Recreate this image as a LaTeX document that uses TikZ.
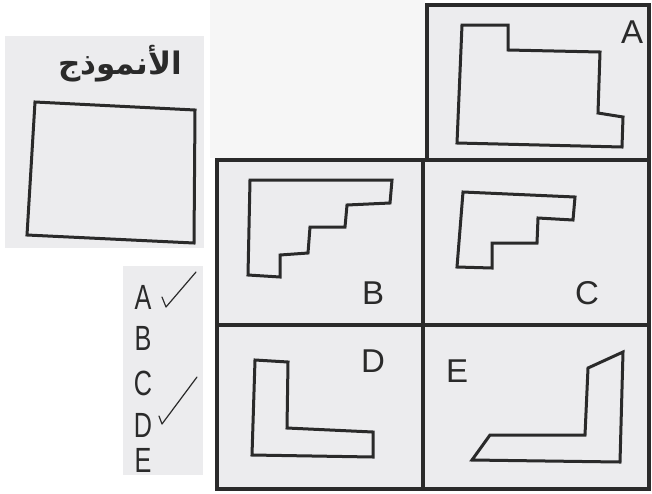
\documentclass[tikz,border=0pt]{standalone}
\usepackage{fontspec}
\setmainfont{Liberation Sans}
\newfontfamily\arabicfont[Script=Arabic]{DejaVu Sans}
\TeXXeTstate=1
\definecolor{ink}{HTML}{2A2A2A}
\definecolor{paper}{HTML}{ECECEE}
\definecolor{paperlt}{HTML}{F6F6F6}
\begin{document}
\begin{tikzpicture}[x={(1pt,0)},y={(0,-1pt)},
  gridline/.style={draw=ink,line width=3.4pt},
  figline/.style={draw=ink,line width=3pt,line join=miter},
  celllabel/.style={text=ink,font=\fontsize{33}{33}\selectfont,inner sep=0pt},
  choice/.style={text=ink,font=\fontsize{35}{35}\selectfont,inner sep=0pt,xscale=0.72},
  tick/.style={draw=ink,line width=1.2pt,line cap=round,line join=round}]
\useasboundingbox (0,0) rectangle (652,493);
\fill[white] (0,0) rectangle (652,493);
% paper patches
\fill[paper] (5,36) rectangle (204,248);
\fill[paper] (123,266) rectangle (203,475);
\fill[paperlt] (210,0) rectangle (425,158);
\fill[paper] (217,160) rectangle (649,489);
\fill[paper] (427,5) rectangle (649,160);
% model
\node[text=ink,inner sep=0pt] (title) at (120,64) {\arabicfont\bfseries\fontsize{31}{31}\selectfont\beginR الأنموذج\endR};
\draw[figline] (35,102) -- (195,110) -- (194,243) -- (27,235) -- cycle;
% choices
\node[choice] (la) at (143,297) {A};
\node[choice] (lb) at (143,338) {B};
\node[choice] (lc) at (143,383) {C};
\node[choice] (ld) at (143,425) {D};
\node[choice] (le) at (143,460) {E};
\draw[tick] (162,297) -- (166,307) -- (196,272);
\draw[tick] (159,416) -- (162,424) -- (197,377);
% grid
\draw[gridline] (427,5) -- (649,5) -- (649,489) -- (217,489) -- (217,160) -- (427,160) -- cycle;
\draw[gridline] (427,160) -- (649,160);
\draw[gridline] (423,160) -- (423,489);
\draw[gridline] (217,325) -- (649,325);
% A
\draw[figline] (462,25) -- (508,25) -- (508,50) -- (600,52) -- (598,113) -- (623,117) -- (622,147) -- (457,143) -- cycle;
\node[celllabel] (ta) at (632,32) {A};
% B
\draw[figline] (250,180) -- (392,180) -- (390,203) -- (347,205) -- (345,227) -- (310,227) -- (308,253) -- (280,255) -- (280,277) -- (248,275) -- cycle;
\node[celllabel] (tb) at (373,293) {B};
% C
\draw[figline] (463,192) -- (575,197) -- (573,220) -- (538,218) -- (537,243) -- (492,243) -- (492,268) -- (457,267) -- cycle;
\node[celllabel] (tc) at (587,293) {C};
% D
\draw[figline] (255,360) -- (288,362) -- (287,428) -- (373,432) -- (373,457) -- (252,455) -- cycle;
\node[celllabel] (td) at (373,361) {D};
% E
\draw[figline] (472,460) -- (490,435) -- (585,435) -- (588,368) -- (623,352) -- (620,462) -- cycle;
\node[celllabel] (te) at (457,371) {E};
\end{tikzpicture}
\end{document}
